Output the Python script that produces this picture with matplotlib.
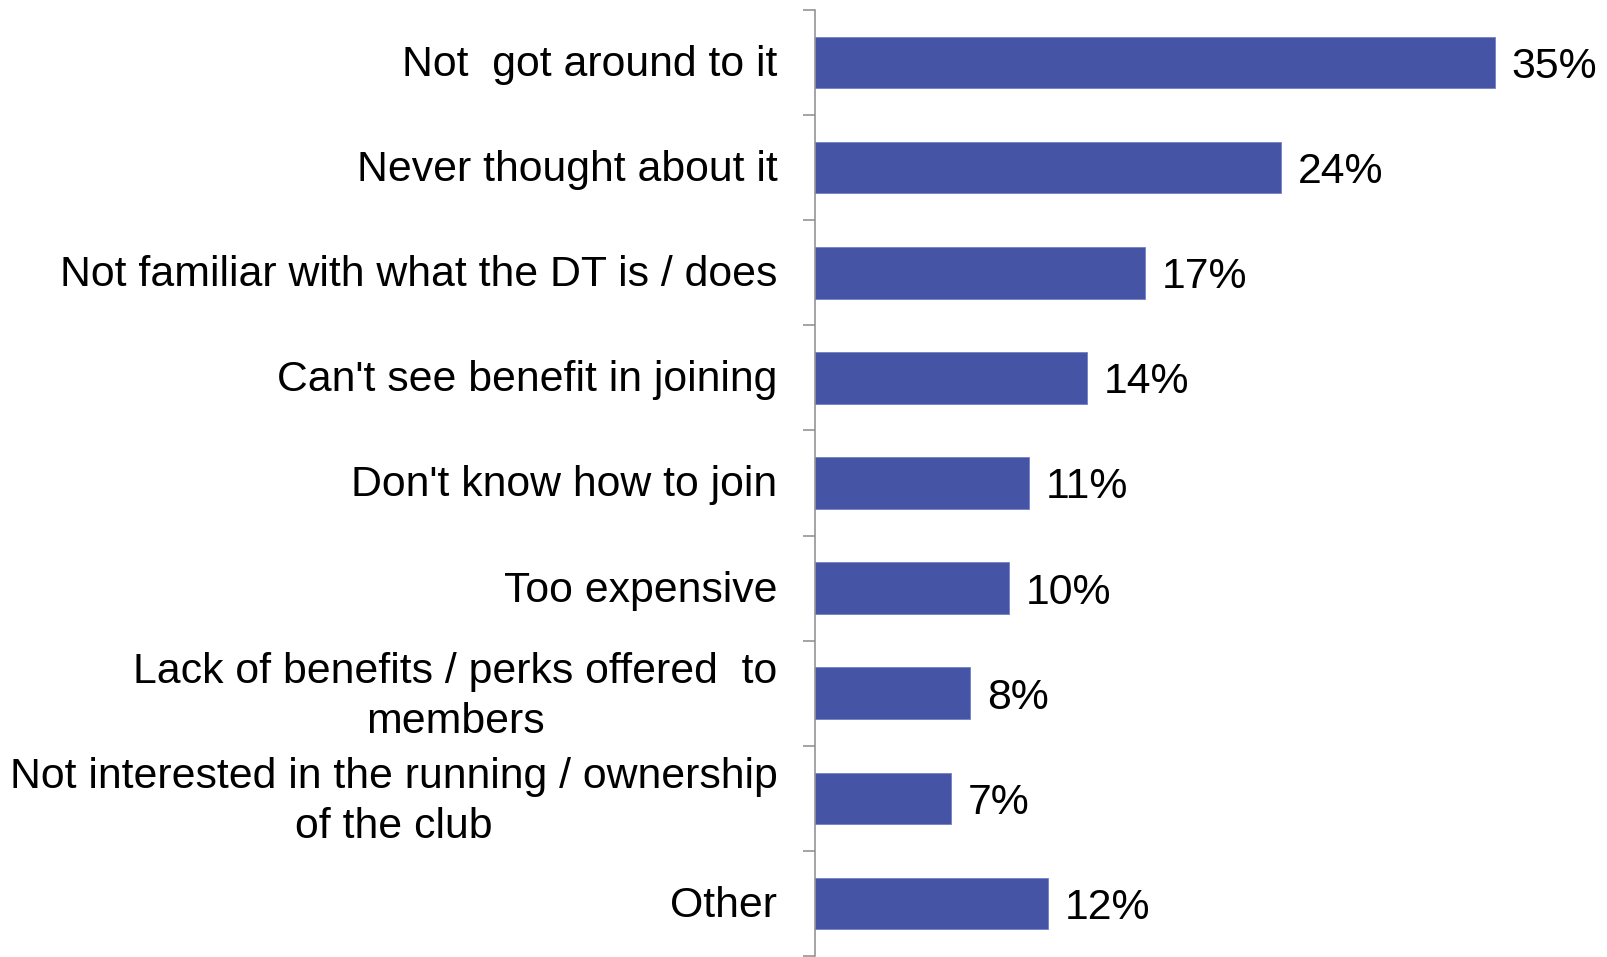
import numpy as np
import matplotlib.pyplot as plt
import matplotlib.transforms as mtransforms
from matplotlib.ticker import FixedLocator

categories = ["Not  got around to it",
              "Never thought about it",
              "Not familiar with what the DT is / does",
              "Can't see benefit in joining",
              "Don't know how to join",
              "Too expensive",
              "Lack of benefits / perks offered  to\nmembers",
              "Not interested in the running / ownership\nof the club",
              "Other"]
values = [35, 24, 17, 14, 11, 10, 8, 7, 12]
value_labels = ["35%", "24%", "17%", "14%", "11%", "10%", "8%", "7%", "12%"]

plt.rcParams['font.family'] = ['Liberation Sans', 'DejaVu Sans']

fig = plt.figure(figsize=(16.08, 9.57), dpi=100)
ax = fig.add_axes([815 / 1608, 1 / 957, 1 - 815 / 1608, 946 / 957])

pos = np.arange(len(categories))
ax.barh(pos, values, height=0.49, color="#4654a5", edgecolor="#7380c8", linewidth=0.6)
for p, v, t in zip(pos, values, value_labels):
    ax.text(v + 0.85, p, t, va="center_baseline", ha="left", fontsize=30.8, color="black")

ax.set_xlim(0, 40.8)
ax.set_ylim(len(categories) - 0.5, -0.5)
ax.set_yticks(pos)
ax.set_yticklabels(categories, fontsize=30.8, multialignment="center", linespacing=1.32)
ax.tick_params(axis="y", which="major", length=0, pad=27)
ax.yaxis.set_minor_locator(FixedLocator(np.arange(-0.5, len(categories), 1.0)))
ax.tick_params(axis="y", which="minor", length=9, width=1.1, color="#8c8c8c")
ax.set_xticks([])

# nudge labels up a little, two-line ones a bit more
for lab in ax.get_yticklabels():
    dy = 6 if "\n" in lab.get_text() else 2
    lab.set_transform(lab.get_transform() + mtransforms.ScaledTranslation(0, dy / 100, fig.dpi_scale_trans))

for s in ["top", "right", "bottom"]:
    ax.spines[s].set_visible(False)
ax.spines["left"].set_color("#8c8c8c")
ax.spines["left"].set_linewidth(1.1)

fig.savefig("out.png", dpi=100)
